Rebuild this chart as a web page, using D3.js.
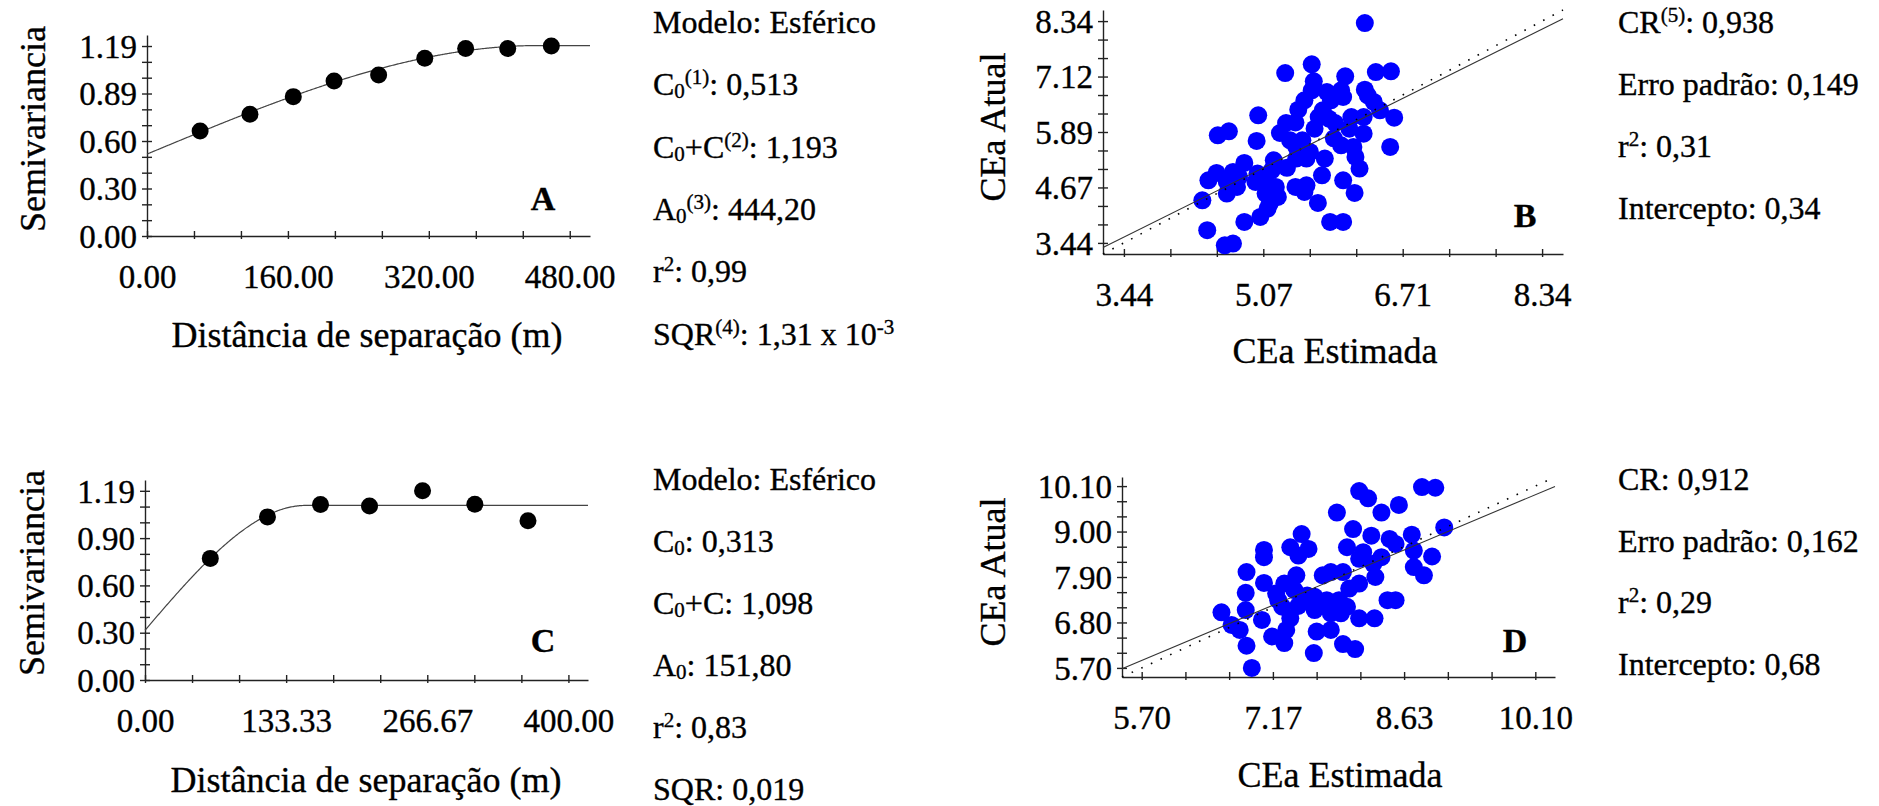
<!DOCTYPE html>
<html>
<head>
<meta charset="utf-8">
<script src="https://cdn.jsdelivr.net/npm/d3@7"></script>
<style>
  body { margin: 0; background: #fff; }
  svg text { font-family: "Liberation Serif", "Times New Roman", serif; fill: #000; stroke: #000; stroke-width: 0.35px; }
</style>
</head>
<body>
<script>
// ---- data ----
// A / C: experimental semivariograms
var lagA = [60.3, 116.9, 166.1, 212.4, 263.0, 315.4, 361.8, 409.6, 459.1];
var semivarA = [0.658, 0.762, 0.873, 0.971, 1.008, 1.113, 1.175, 1.175, 1.190];
var modelA = [0.513, 1.193, 444.20]; // C0, C0+C, A0 (esferico)

var lagC = [61.7, 115.7, 165.8, 212.1, 262.2, 311.6, 361.8];
var semivarC = [0.765, 1.026, 1.104, 1.094, 1.190, 1.106, 1.001];
var modelC = [0.313, 1.098, 151.80];

// B / D: validacao cruzada (estimada x atual)
var estB = [6.263, 5.641, 5.330, 6.033, 6.392, 6.569, 5.665, 5.641, 5.818, 5.985,
  6.263, 6.009, 6.368, 5.555, 5.483, 5.770, 6.440, 6.607, 5.014, 5.340,
  5.722, 5.842, 5.914, 6.105, 6.249, 5.674, 6.081, 6.249, 5.268, 4.540,
  4.670, 4.995, 5.387, 5.985, 6.129, 6.560, 5.459, 5.459, 5.579, 5.794,
  6.153, 6.201, 4.851, 5.196, 5.172, 5.005, 4.526, 4.430, 4.718, 4.789,
  4.646, 4.765, 4.981, 5.100, 5.220, 5.244, 5.148, 5.124, 5.450, 5.579,
  5.761, 6.009, 6.143, 4.646, 4.359, 5.555, 5.713, 5.038, 4.851, 5.856,
  6.009, 4.416, 4.622, 4.718, 5.531, 6.297, 5.866, 5.100, 5.450, 5.620,
  5.900, 5.350];
var atualB = [8.297, 7.384, 7.193, 7.119, 7.215, 7.230, 7.009, 6.810, 6.773, 6.810,
  6.825, 6.663, 6.553, 6.589, 6.383, 6.369, 6.369, 6.207, 6.258, 6.089,
  6.221, 6.185, 6.089, 6.221, 6.221, 5.964, 5.964, 5.854, 5.868, 5.817,
  5.905, 5.692, 5.706, 5.596, 5.559, 5.559, 5.559, 5.302, 5.302, 5.302,
  5.338, 5.081, 5.206, 5.265, 5.044, 4.971, 4.985, 4.823, 5.007, 4.897,
  4.787, 4.676, 4.787, 4.750, 4.676, 4.455, 4.308, 4.198, 4.676, 4.713,
  4.934, 4.823, 4.544, 4.529, 4.382, 4.566, 4.323, 4.014, 3.904, 3.904,
  3.904, 3.720, 3.388, 3.425, 5.706, 6.700, 6.589, 4.529, 6.100, 5.450,
  5.750, 5.100];
var regB = [0.34, 0.938]; // intercepto, CR

var estD = [8.131, 8.231, 8.833, 8.982, 8.575, 7.882, 8.380, 8.063, 8.267, 7.488,
  9.082, 8.719, 8.471, 7.361, 7.565, 7.452, 7.067, 7.067, 7.995, 8.176,
  8.131, 8.380, 8.538, 8.742, 8.946, 8.289, 8.742, 8.855, 6.872, 7.429,
  7.067, 7.294, 7.724, 7.814, 7.950, 8.131, 8.312, 6.863, 7.203, 7.407,
  7.520, 7.633, 7.769, 7.905, 7.995, 7.678, 8.448, 8.538, 6.592, 6.863,
  7.044, 7.361, 7.633, 7.814, 7.927, 8.131, 8.303, 6.705, 6.796, 7.158,
  7.294, 7.316, 7.656, 7.814, 6.872, 7.950, 8.086, 7.624, 6.931, 7.226,
  7.271, 7.550, 7.700, 7.450, 8.020];
var atualD = [9.980, 9.804, 10.076, 10.060, 9.644, 9.460, 9.460, 9.060, 8.900, 8.940,
  9.100, 8.924, 8.820, 8.620, 8.580, 8.420, 8.556, 8.380, 8.620, 8.500,
  8.340, 8.380, 8.700, 8.540, 8.396, 8.220, 8.140, 7.940, 8.020, 7.940,
  7.756, 7.740, 7.940, 8.020, 8.020, 7.740, 7.900, 7.516, 7.500, 7.580,
  7.340, 7.420, 7.340, 7.340, 7.180, 7.180, 7.340, 7.340, 7.044, 7.100,
  6.860, 6.900, 7.100, 7.020, 7.020, 6.900, 6.900, 6.740, 6.620, 6.460,
  6.300, 6.620, 6.580, 6.620, 6.236, 6.276, 6.156, 6.060, 5.700, 7.340,
  7.180, 7.450, 7.250, 7.200, 7.620];
var regD = [0.68, 0.912];

// tick values / labels
var xTicksA = [0, 160, 320, 480], xLabelsA = ["0.00", "160.00", "320.00", "480.00"];
var yTicksA = [0, 0.2975, 0.595, 0.8925, 1.19], yLabelsA = ["0.00", "0.30", "0.60", "0.89", "1.19"];
var xTicksC = [0, 133.333, 266.667, 400], xLabelsC = ["0.00", "133.33", "266.67", "400.00"];
var yTicksC = [0, 0.2975, 0.595, 0.8925, 1.19], yLabelsC = ["0.00", "0.30", "0.60", "0.90", "1.19"];
var xTicksB = [3.44, 5.0733, 6.7067, 8.34], xLabelsB = ["3.44", "5.07", "6.71", "8.34"];
var yTicksB = [3.44, 4.665, 5.89, 7.115, 8.34], yLabelsB = ["3.44", "4.67", "5.89", "7.12", "8.34"];
var xTicksD = [5.70, 7.1667, 8.6333, 10.10], xLabelsD = ["5.70", "7.17", "8.63", "10.10"];
var yTicksD = [5.70, 6.80, 7.90, 9.00, 10.10], yLabelsD = ["5.70", "6.80", "7.90", "9.00", "10.10"];

// texto ao lado dos graficos
var statsA = [
  [["Modelo: Esférico"]],
  [["C"], ["0", "sub"], ["(1)", "sup"], [": 0,513"]],
  [["C"], ["0", "sub"], ["+C"], ["(2)", "sup"], [": 1,193"]],
  [["A"], ["0", "sub"], ["(3)", "sup"], [": 444,20"]],
  [["r"], ["2", "sup"], [": 0,99"]],
  [["SQR"], ["(4)", "sup"], [": 1,31 x 10"], ["-3", "sup"]]
];
var statsC = [
  [["Modelo: Esférico"]],
  [["C"], ["0", "sub"], [": 0,313"]],
  [["C"], ["0", "sub"], ["+C: 1,098"]],
  [["A"], ["0", "sub"], [": 151,80"]],
  [["r"], ["2", "sup"], [": 0,83"]],
  [["SQR: 0,019"]]
];
var statsB = [
  [["CR"], ["(5)", "sup"], [": 0,938"]],
  [["Erro padrão: 0,149"]],
  [["r"], ["2", "sup"], [": 0,31"]],
  [["Intercepto: 0,34"]]
];
var statsD = [
  [["CR: 0,912"]],
  [["Erro padrão: 0,162"]],
  [["r"], ["2", "sup"], [": 0,29"]],
  [["Intercepto: 0,68"]]
];

// ---- drawing ----
var svg = d3.select("body").append("svg")
  .attr("width", 1879)
  .attr("height", 806);

var tickFont = 33;
var titleFont = 36;

function minorTicks(major) {
  var out = [];
  for (var i = 0; i < major.length - 1; i++) {
    var step = (major[i + 1] - major[i]) / 3;
    out.push(major[i], major[i] + step, major[i] + 2 * step);
  }
  out.push(major[major.length - 1]);
  return out;
}

function axes(x, y, p) {
  var x0 = x.range()[0], y0 = y.range()[0];
  var gx = svg.append("g").attr("transform", "translate(0," + y0 + ")");
  gx.call(d3.axisBottom(x).tickValues(p.xMinor).tickSize(0).tickSizeOuter(0).tickFormat(""));
  gx.selectAll(".tick line").attr("y1", -5).attr("y2", 3);
  var gxl = svg.append("g").attr("transform", "translate(0," + y0 + ")")
    .call(d3.axisBottom(x).tickValues(p.xTicks).tickSize(0).tickFormat(function(d, i) { return p.xLabels[i]; }));
  gxl.select(".domain").remove();
  gxl.selectAll(".tick text").attr("y", 52).attr("dy", null)
    .attr("font-size", tickFont).attr("font-family", "Liberation Serif");

  var gy = svg.append("g").attr("transform", "translate(" + x0 + ",0)");
  gy.call(d3.axisLeft(y).tickValues(p.yMinor).tickSize(0).tickSizeOuter(0).tickFormat(""));
  gy.selectAll(".tick line").attr("x1", -5).attr("x2", 5);
  var gyl = svg.append("g").attr("transform", "translate(" + x0 + ",0)")
    .call(d3.axisLeft(y).tickValues(p.yTicks).tickSize(0).tickFormat(function(d, i) { return p.yLabels[i]; }));
  gyl.select(".domain").remove();
  gyl.selectAll(".tick text").attr("x", -10).attr("dy", "0.34em")
    .attr("font-size", tickFont).attr("font-family", "Liberation Serif");

  [gx, gy].forEach(function(g) {
    g.selectAll(".domain, .tick line").attr("stroke", "#222").attr("stroke-width", 1.4);
  });

  svg.append("text")
    .attr("transform", "translate(" + p.yTitle[0] + "," + p.yTitle[1] + ") rotate(-90)")
    .attr("text-anchor", "middle")
    .attr("font-size", titleFont)
    .text(p.yTitleText);
  svg.append("text")
    .attr("x", p.xTitle[0]).attr("y", p.xTitle[1])
    .attr("text-anchor", "middle")
    .attr("font-size", titleFont)
    .text(p.xTitleText);
  svg.append("text")
    .attr("x", p.tag[0]).attr("y", p.tag[1])
    .attr("text-anchor", "middle")
    .attr("font-size", 34)
    .attr("font-weight", "bold")
    .text(p.tagText);
}

function spherical(m, h) {
  var c0 = m[0], sill = m[1], a = m[2];
  if (h >= a) return sill;
  var r = h / a;
  return c0 + (sill - c0) * (1.5 * r - 0.5 * r * r * r);
}

function variogram(p) {
  var x = d3.scaleLinear().domain(p.xDomain).range(p.xRange);
  var y = d3.scaleLinear().domain(p.yDomain).range(p.yRange);
  axes(x, y, p);

  var hs = d3.range(0, p.xDomain[1], 1).concat([p.xDomain[1]]);
  var line = d3.line()
    .x(function(h) { return x(h); })
    .y(function(h) { return y(spherical(p.model, h)); });
  svg.append("path")
    .datum(hs)
    .attr("d", line)
    .attr("fill", "none")
    .attr("stroke", "#444")
    .attr("stroke-width", 1.2);

  svg.append("g").selectAll("circle")
    .data(p.lags)
    .enter().append("circle")
      .attr("cx", function(d) { return x(d); })
      .attr("cy", function(d, i) { return y(p.gamma[i]); })
      .attr("r", 8.5)
      .attr("fill", "#000");
}

function scatter(p) {
  var x = d3.scaleLinear().domain(p.domain).range(p.xRange);
  var y = d3.scaleLinear().domain(p.domain).range(p.yRange);
  axes(x, y, p);

  svg.append("g").selectAll("circle")
    .data(p.est)
    .enter().append("circle")
      .attr("cx", function(d) { return x(d); })
      .attr("cy", function(d, i) { return y(p.atual[i]); })
      .attr("r", 9)
      .attr("fill", "#0000ff");

  var d0 = p.domain[0], d1 = p.domain[1];
  // linha 1:1
  svg.append("line")
    .attr("x1", x(d0)).attr("y1", y(d0))
    .attr("x2", x(d1)).attr("y2", y(d1))
    .attr("stroke", "#000")
    .attr("stroke-width", 1.6)
    .attr("stroke-dasharray", "1.6,9");
  // regressao
  svg.append("line")
    .attr("x1", x(d0)).attr("y1", y(p.reg[0] + p.reg[1] * d0))
    .attr("x2", x(d1)).attr("y2", y(p.reg[0] + p.reg[1] * d1))
    .attr("stroke", "#333")
    .attr("stroke-width", 1.1);
}

function stats(lines, x, y0, gap) {
  lines.forEach(function(parts, li) {
    var t = svg.append("text")
      .attr("x", x)
      .attr("y", y0 + li * gap)
      .attr("font-size", 32);
    var shift = 0;
    parts.forEach(function(s) {
      var want = s[1] === "sup" ? -11 : (s[1] === "sub" ? 3 : 0);
      t.append("tspan")
        .attr("dy", want - shift)
        .attr("font-size", s[1] ? 21 : 32)
        .text(s[0]);
      shift = want;
    });
  });
}

variogram({
  lags: lagA, gamma: semivarA, model: modelA,
  xDomain: [0, 503], yDomain: [0, 1.259],
  xRange: [147, 590], yRange: [236, 35],
  xTicks: xTicksA, xLabels: xLabelsA, xMinor: minorTicks(xTicksA),
  yTicks: yTicksA, yLabels: yLabelsA, yMinor: minorTicks(yTicksA),
  yTitleText: "Semivariancia", yTitle: [45, 129],
  xTitleText: "Distância de separação (m)", xTitle: [367, 347],
  tagText: "A", tag: [543, 210]
});

variogram({
  lags: lagC, gamma: semivarC, model: modelC,
  xDomain: [0, 418.5], yDomain: [0, 1.258],
  xRange: [145, 588], yRange: [680, 480],
  xTicks: xTicksC, xLabels: xLabelsC, xMinor: minorTicks(xTicksC),
  yTicks: yTicksC, yLabels: yLabelsC, yMinor: minorTicks(yTicksC),
  yTitleText: "Semivariancia", yTitle: [44, 573],
  xTitleText: "Distância de separação (m)", xTitle: [366, 792],
  tagText: "C", tag: [543, 652]
});

scatter({
  est: estB, atual: atualB, reg: regB,
  domain: [3.195, 8.585],
  xRange: [1103, 1563], yRange: [254, 10],
  xTicks: xTicksB, xLabels: xLabelsB, xMinor: minorTicks(xTicksB),
  yTicks: yTicksB, yLabels: yLabelsB, yMinor: minorTicks(yTicksB),
  yTitleText: "CEa Atual", yTitle: [1005, 127],
  xTitleText: "CEa Estimada", xTitle: [1335, 363],
  tagText: "B", tag: [1525, 227]
});

scatter({
  est: estD, atual: atualD, reg: regD,
  domain: [5.48, 10.32],
  xRange: [1122, 1555], yRange: [677, 477],
  xTicks: xTicksD, xLabels: xLabelsD, xMinor: minorTicks(xTicksD),
  yTicks: yTicksD, yLabels: yLabelsD, yMinor: minorTicks(yTicksD),
  yTitleText: "CEa Atual", yTitle: [1005, 572],
  xTitleText: "CEa Estimada", xTitle: [1340, 787],
  tagText: "D", tag: [1515, 652]
});

stats(statsA, 653, 33, 62.3);
stats(statsC, 653, 490, 62);
stats(statsB, 1618, 32.5, 62);
stats(statsD, 1618, 490, 61.7);
</script>
</body>
</html>
